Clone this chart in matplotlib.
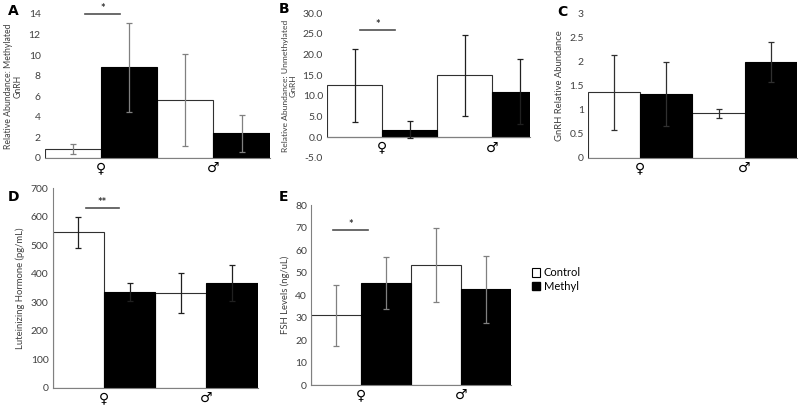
import numpy as np
import matplotlib.pyplot as plt
from matplotlib.patches import Patch

plt.rcParams['font.family'] = ['Lato', 'DejaVu Sans']

sexes = ['♀', '♂']

# panel data: control / methyl means and error half-widths
a_ctrl = [0.85, 5.6]
a_ctrl_err = [0.5, 4.45]
a_meth = [8.8, 2.4]
a_meth_err = [4.3, 1.8]

b_ctrl = [12.5, 15.0]
b_ctrl_err = [8.8, 9.8]
b_meth = [1.8, 11.0]
b_meth_err = [2.0, 7.8]

c_ctrl = [1.37, 0.93]
c_ctrl_err = [0.78, 0.09]
c_meth = [1.33, 2.0]
c_meth_err = [0.67, 0.42]

d_ctrl = [545, 333]
d_ctrl_err = [55, 69]
d_meth = [335, 367]
d_meth_err = [32, 63]

e_ctrl = [31, 53.5]
e_ctrl_err = [13.5, 16.5]
e_meth = [45.5, 42.5]
e_meth_err = [11.5, 14.7]

fig = plt.figure(figsize=(8, 4.07), dpi=100)

txt = '#404040'


def panel(rect, ctrl, ctrl_err, meth, meth_err, ylim, yticks, ylabels,
          ylabel, errcol, sig=None, left_spine=False, xright=1.5, ylsize=6.8):
    ax = fig.add_axes(rect)
    x = np.arange(len(sexes))
    ax.bar(x - 0.25, ctrl, 0.5, color='white', edgecolor='#303030', linewidth=0.8, zorder=2)
    ax.bar(x + 0.25, meth, 0.5, color='black', edgecolor='black', linewidth=0.8, zorder=2)
    ax.errorbar(x - 0.25, ctrl, yerr=ctrl_err, fmt='none', ecolor=errcol,
                elinewidth=0.9, capsize=2, capthick=0.9, zorder=3)
    ax.errorbar(x + 0.25, meth, yerr=meth_err, fmt='none', ecolor=errcol,
                elinewidth=0.9, capsize=2, capthick=0.9, zorder=3)
    ax.set_xlim(-0.5, xright)
    ax.set_ylim(*ylim)
    ax.set_yticks(yticks)
    ax.set_yticklabels(ylabels, fontsize=7.5, color=txt)
    ax.set_xticks(x)
    ax.set_xticklabels(sexes, fontsize=9, color='#909090', family='DejaVu Sans')
    ax.tick_params(length=0, pad=3)
    for s in ['top', 'right']:
        ax.spines[s].set_visible(False)
    ax.spines['left'].set_visible(left_spine)
    ax.spines['left'].set_color('#808080')
    ax.spines['bottom'].set_position(('data', 0))
    ax.spines['bottom'].set_color('#808080')
    ax.set_ylabel(ylabel, fontsize=ylsize, color=txt, labelpad=4)
    if sig is not None:
        x0, x1, yl, stars = sig
        ax.plot([x0, x1], [yl, yl], color='#505050', lw=1.2, clip_on=False)
        ax.text((x0 + x1) / 2, yl, stars, ha='center', va='bottom',
                fontsize=8, fontweight='bold', color='#303030')
    return ax


panel([0.056, 0.612, 0.281, 0.354], a_ctrl, a_ctrl_err, a_meth, a_meth_err,
      (0, 14), range(0, 15, 2), [str(v) for v in range(0, 15, 2)],
      'Relative Abundance: Methylated\nGnRH', '#808080',
      sig=(-0.14, 0.17, 14, '*'), ylsize=6.3)

bt = np.arange(-5, 31, 5)
panel([0.409, 0.612, 0.254, 0.356], b_ctrl, b_ctrl_err, b_meth, b_meth_err,
      (-5, 30), bt, ['%.1f' % v for v in bt],
      'Relative Abundance: Unmethylated\nGnRH', '#202020',
      sig=(-0.2, 0.12, 26, '*'), xright=1.345, ylsize=6.1)

ct = [0, 0.5, 1, 1.5, 2, 2.5, 3]
panel([0.735, 0.612, 0.261, 0.354], c_ctrl, c_ctrl_err, c_meth, c_meth_err,
      (0, 3), ct, ['0', '0.5', '1', '1.5', '2', '2.5', '3'],
      'GnRH Relative Abundance', '#303030')

panel([0.066, 0.0467, 0.256, 0.4913], d_ctrl, d_ctrl_err, d_meth, d_meth_err,
      (0, 700), range(0, 701, 100), [str(v) for v in range(0, 701, 100)],
      'Luteinizing Hormone (pg/mL)', '#202020',
      sig=(-0.18, 0.15, 630, '**'), left_spine=True)

panel([0.389, 0.054, 0.25, 0.442], e_ctrl, e_ctrl_err, e_meth, e_meth_err,
      (0, 80), range(0, 81, 10), [str(v) for v in range(0, 81, 10)],
      'FSH Levels (ng/uL)', '#808080',
      sig=(-0.28, 0.07, 69, '*'), left_spine=True)

# panel letters
for lab, px, py in [('A', 8, 11), ('B', 279, 9), ('C', 557, 12),
                    ('D', 8, 197), ('E', 279, 197)]:
    fig.text(px / 800, 1 - py / 407, lab, fontsize=10, fontweight='bold',
             ha='left', va='center', family='DejaVu Sans')

handles = [Patch(facecolor='white', edgecolor='black', linewidth=0.8, label='Control'),
           Patch(facecolor='black', edgecolor='black', label='Methyl')]
fig.legend(handles=handles, loc='center left', bbox_to_anchor=(0.652, 0.313),
           frameon=False, fontsize=8, handlelength=0.8, handleheight=0.8,
           handletextpad=0.3, labelspacing=0.2)

fig.savefig('out.png', dpi=100)
